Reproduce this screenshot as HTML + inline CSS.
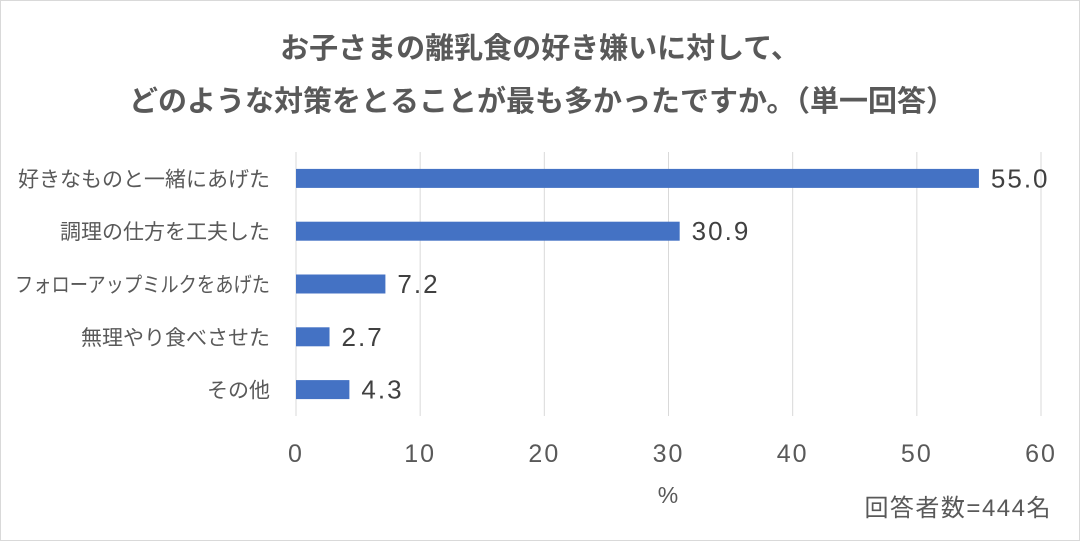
<!DOCTYPE html>
<html><head><meta charset="utf-8">
<style>
html,body{margin:0;padding:0;background:#fff}
body{width:1080px;height:541px;overflow:hidden;font-family:"Liberation Sans","Noto Sans CJK JP",sans-serif}
</style></head>
<body>
<svg width="1080" height="541" xmlns="http://www.w3.org/2000/svg" style="font-family:'Liberation Sans','Noto Sans CJK JP',sans-serif">
<rect x="0.5" y="0.5" width="1079" height="540" fill="#fff" stroke="#d9d9d9"/>
<text x="540" y="58" text-anchor="middle" font-size="29" font-weight="bold" fill="#595959">お子さまの離乳食の好き嫌いに対して、</text>
<text x="542" y="111" text-anchor="middle" font-size="29" font-weight="bold" fill="#595959">どのような対策をとることが最も多かったですか。（単一回答）</text>
<g id="grid"></g><g id="bars"></g><g id="labels"></g>
<text x="668" y="503" text-anchor="middle" font-size="23" fill="#595959">%</text>
<text x="1052" y="516" text-anchor="end" font-size="24" letter-spacing="1.5" fill="#595959">回答者数=444名</text>
</svg>
<script>
const categories=["好きなものと一緒にあげた","調理の仕方を工夫した","フォローアップミルクをあげた","無理やり食べさせた","その他"];
const values=[55.0,30.9,7.2,2.7,4.3];
const ticks=[0,10,20,30,40,50,60];
const NS="http://www.w3.org/2000/svg";
const x0=296,x1=1041,yTop=152,yBot=416,band=(yBot-yTop)/categories.length,bh=19;
const xs=v=>x0+(x1-x0)*v/60;
function mk(t,a,p,txt){const e=document.createElementNS(NS,t);for(const k in a)e.setAttribute(k,a[k]);if(txt!==undefined)e.textContent=txt;p.appendChild(e);return e;}
const g=document.getElementById('grid'),b=document.getElementById('bars'),l=document.getElementById('labels');
ticks.forEach(t=>{
 const ln=mk('line',{x1:xs(t),x2:xs(t),y1:yTop,y2:yBot,stroke:'#d9d9d9','stroke-width':1},g);
 
 
 const tx=mk('text',{x:xs(t),y:462,'text-anchor':'middle','font-size':25,'letter-spacing':2,fill:'#595959'},l,String(t));
 
 
});
categories.forEach((c,i)=>{
 const cy=yTop+band*(i+0.5);
 const r=mk('rect',{x:x0,y:cy-bh/2,width:xs(values[i])-x0,height:bh,fill:'#4472c4'},b);
 
 
 const v=mk('text',{x:xs(values[i])+12,y:cy+9,'font-size':26,'letter-spacing':2,fill:'#404040'},l,values[i].toFixed(1));
 
 
 const cl=mk('text',{x:270,y:cy+8,'text-anchor':'end','font-size':21,fill:'#595959'},l,c);
 
 
 if(cl.getComputedTextLength()>255){cl.setAttribute('textLength',255);cl.setAttribute('lengthAdjust','spacingAndGlyphs');}
});
</script>
</body></html>
